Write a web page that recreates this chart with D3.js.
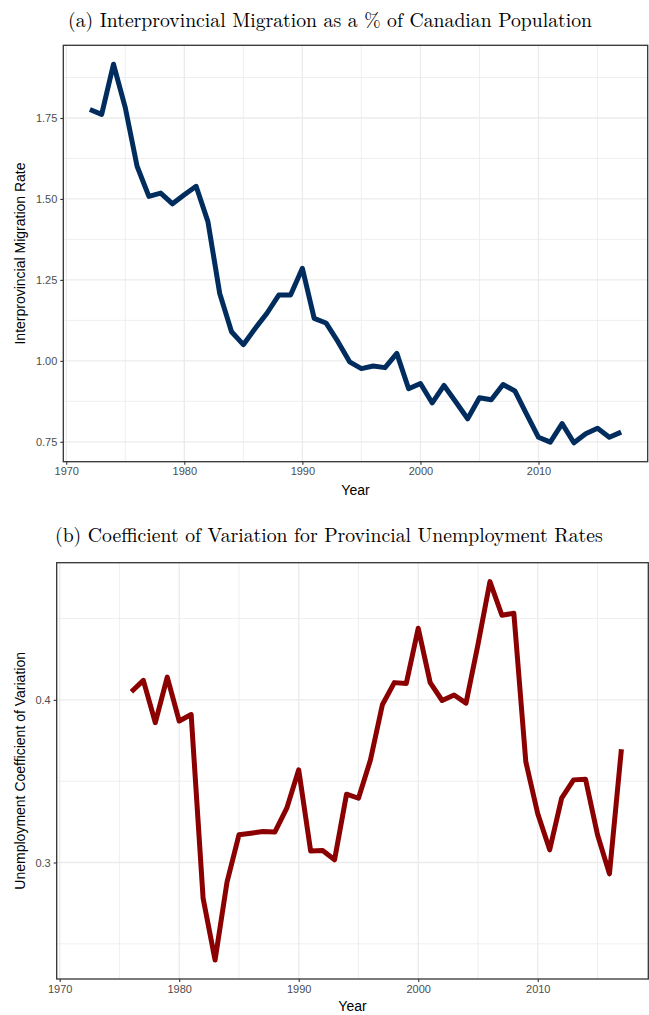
<!DOCTYPE html>
<html>
<head>
<meta charset="utf-8">
<script src="https://cdn.jsdelivr.net/npm/d3@7"></script>
<style>
  html, body { margin: 0; padding: 0; background: #fff; }
  svg { display: block; }
</style>
</head>
<body>
<svg id="chart" width="649" height="1015"></svg>
<script>
// Interprovincial migration rate (% of population), 1972–2017
const migYears = d3.range(1972, 2018);
const migRate = [
  1.776, 1.761, 1.916, 1.782, 1.601, 1.508, 1.518, 1.485, 1.513, 1.539,
  1.430, 1.208, 1.090, 1.050, 1.100, 1.147, 1.203, 1.203, 1.286, 1.131,
  1.117, 1.060, 0.997, 0.976, 0.984, 0.979, 1.023, 0.914, 0.930, 0.870,
  0.924, 0.873, 0.821, 0.886, 0.880, 0.927, 0.907, 0.835, 0.764, 0.749,
  0.806, 0.747, 0.775, 0.792, 0.764, 0.780
];

// Coefficient of variation of provincial unemployment rates, 1976–2017
const cvYears = d3.range(1976, 2018);
const cvRate = [
  0.405, 0.412, 0.386, 0.414, 0.387, 0.391, 0.278, 0.240, 0.288, 0.317,
  0.318, 0.319, 0.3187, 0.3334, 0.357, 0.307, 0.3074, 0.3017, 0.342, 0.3395,
  0.363, 0.397, 0.4106, 0.410, 0.444, 0.4106, 0.3996, 0.403, 0.398, 0.434,
  0.4727, 0.452, 0.4533, 0.362, 0.330, 0.3078, 0.3396, 0.3508, 0.3512, 0.317,
  0.293, 0.3697
];

const xTicks = [1970, 1980, 1990, 2000, 2010];
const xMinorTicks = [1975, 1985, 1995, 2005, 2015];
const migTicks = [0.75, 1.00, 1.25, 1.50, 1.75];
const migMinorTicks = [0.875, 1.125, 1.375, 1.625, 1.875];
const cvTicks = [0.3, 0.4];
const cvMinorTicks = [0.25, 0.35, 0.45];

const svg = d3.select("#chart");

function expand(ext, f) {
  const pad = (ext[1] - ext[0]) * f;
  return [ext[0] - pad, ext[1] + pad];
}

function drawPanel(opt) {
  const { left, top, right, bottom } = opt.box;
  const g = svg.append("g");

  const x = d3.scaleLinear().domain(expand([1972, 2017], 0.05)).range([left, right]);
  const y = d3.scaleLinear().domain(expand(d3.extent(opt.values), 0.05)).range([bottom, top]);

  // title
  svg.append("text")
    .attr("x", opt.titleX)
    .attr("y", opt.titleY)
    .attr("font-family", "'Latin Modern Roman', 'CMU Serif', 'DejaVu Serif', serif")
    .attr("font-size", opt.titleSize)
    .attr("fill", "#000")
    .text(opt.title);

  // minor grid
  g.selectAll(".vminor").data(opt.xMinor).join("line")
    .attr("x1", d => x(d)).attr("x2", d => x(d))
    .attr("y1", top).attr("y2", bottom)
    .attr("stroke", "#ebebeb").attr("stroke-width", 0.8);
  g.selectAll(".hminor").data(opt.yMinor).join("line")
    .attr("y1", d => y(d)).attr("y2", d => y(d))
    .attr("x1", left).attr("x2", right)
    .attr("stroke", "#ebebeb").attr("stroke-width", 0.8);
  // major grid
  g.selectAll(".vmajor").data(opt.xMajor).join("line")
    .attr("x1", d => x(d)).attr("x2", d => x(d))
    .attr("y1", top).attr("y2", bottom)
    .attr("stroke", "#ebebeb").attr("stroke-width", 1.3);
  g.selectAll(".hmajor").data(opt.yMajor).join("line")
    .attr("y1", d => y(d)).attr("y2", d => y(d))
    .attr("x1", left).attr("x2", right)
    .attr("stroke", "#ebebeb").attr("stroke-width", 1.3);

  // data line
  const line = d3.line().x((d, i) => x(opt.years[i])).y(d => y(d));
  g.append("path")
    .datum(opt.values)
    .attr("d", line)
    .attr("fill", "none")
    .attr("stroke", opt.color)
    .attr("stroke-width", 5)
    .attr("stroke-linejoin", "round")
    .attr("stroke-linecap", "butt");

  // panel border
  g.append("rect")
    .attr("x", left).attr("y", top)
    .attr("width", right - left).attr("height", bottom - top)
    .attr("fill", "none").attr("stroke", "#333333").attr("stroke-width", 1.3);

  // axes
  const xAxis = d3.axisBottom(x).tickValues(opt.xMajor).tickFormat(d3.format("d"))
    .tickSize(3).tickPadding(3);
  const yAxis = d3.axisLeft(y).tickValues(opt.yMajor).tickFormat(d3.format(opt.yFormat))
    .tickSize(3).tickPadding(3);

  const gx = g.append("g").attr("transform", `translate(0,${bottom})`).call(xAxis);
  const gy = g.append("g").attr("transform", `translate(${left},0)`).call(yAxis);
  [gx, gy].forEach(a => {
    a.select(".domain").remove();
    a.selectAll(".tick line").attr("stroke", "#333333").attr("stroke-width", 1.1);
    a.selectAll(".tick text")
      .attr("fill", "#4d4d4d")
      .attr("font-family", "'Liberation Sans', Arial, sans-serif")
      .attr("font-size", 11);
  });

  // axis titles
  g.append("text")
    .attr("x", (left + right) / 2)
    .attr("y", opt.xTitleY)
    .attr("text-anchor", "middle")
    .attr("font-family", "'Liberation Sans', Arial, sans-serif")
    .attr("font-size", 14)
    .attr("fill", "#000")
    .text("Year");
  g.append("text")
    .attr("transform", `translate(${opt.yTitleX},${(top + bottom) / 2}) rotate(-90)`)
    .attr("text-anchor", "middle")
    .attr("font-family", "'Liberation Sans', Arial, sans-serif")
    .attr("font-size", 14)
    .attr("fill", "#000")
    .text(opt.yTitle);
}

drawPanel({
  box: { left: 63.3, top: 45.3, right: 647.7, bottom: 461.7 },
  years: migYears,
  values: migRate,
  color: "#002d5e",
  xMajor: xTicks, xMinor: xMinorTicks,
  yMajor: migTicks, yMinor: migMinorTicks,
  yFormat: ".2f",
  title: "(a) Interprovincial Migration as a % of Canadian Population",
  titleX: 68, titleY: 27, titleSize: 19.7,
  xTitleY: 495,
  yTitleX: 25,
  yTitle: "Interprovincial Migration Rate"
});

drawPanel({
  box: { left: 56.7, top: 562.7, right: 648.3, bottom: 979 },
  years: cvYears,
  values: cvRate,
  color: "#8b0000",
  xMajor: xTicks, xMinor: xMinorTicks,
  yMajor: cvTicks, yMinor: cvMinorTicks,
  yFormat: ".1f",
  title: "(b) Coefficient of Variation for Provincial Unemployment Rates",
  titleX: 55, titleY: 542, titleSize: 19.7,
  xTitleY: 1011,
  yTitleX: 25,
  yTitle: "Unemployment Coefficient of Variation"
});
</script>
</body>
</html>
